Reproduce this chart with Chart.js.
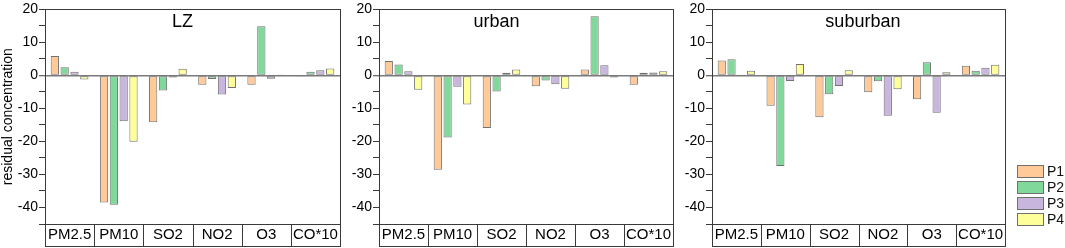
<!DOCTYPE html>
<html>
<head>
<meta charset="utf-8">
<script src="https://cdn.jsdelivr.net/npm/chart.js@4.4.1/dist/chart.umd.min.js"></script>
<style>
  body { margin: 0; background: #fff; font-family: "Liberation Sans", Arial, sans-serif; }
  #wrap { position: relative; width: 1065px; height: 248px; overflow: hidden; }
  canvas { position: absolute; top: 0; }
  #legend { position: absolute; left: 1017px; top: 165px; font-size: 14px; color: #111; }
  .item { height: 16px; display: flex; align-items: flex-start; }
  .sw { width: 25px; height: 11px; border: 1px solid #707070; margin-right: 3px; }
  .lab { line-height: 13px; }
</style>
</head>
<body>
<div id="wrap">
  <canvas id="c1" width="345" height="248" style="left:0px"></canvas>
  <canvas id="c2" width="340" height="248" style="left:340px"></canvas>
  <canvas id="c3" width="385" height="248" style="left:680px"></canvas>
  <div id="legend"></div>
</div>
<script>
const categories = ["PM2.5", "PM10", "SO2", "NO2", "O3", "CO*10"];
const seriesNames = ["P1", "P2", "P3", "P4"];
const colors = ["#FFC998", "#80D99B", "#C9B6DF", "#FFFF99"];
const yTicks = [-40, -30, -20, -10, 0, 10, 20];

// LZ
const lzP1 = [5.9, -38.5, -14.2, -2.8, -2.8, -0.3];
const lzP2 = [2.5, -39.2, -4.6, -1.1, 14.9, 1.1];
const lzP3 = [1.1, -13.9, -0.6, -5.8, -1.0, 1.6];
const lzP4 = [-1.2, -20.1, 2.0, -3.8, 0.15, 2.1];
// urban
const urP1 = [4.4, -28.6, -15.9, -3.3, 1.8, -2.8];
const urP2 = [3.3, -18.8, -4.9, -1.5, 17.9, 0.8];
const urP3 = [1.3, -3.4, 0.8, -2.7, 3.1, 0.9];
const urP4 = [-4.3, -8.8, 1.8, -4.0, -0.6, 1.3];
// suburban
const suP1 = [4.5, -9.2, -12.7, -5.1, -7.2, 2.9];
const suP2 = [4.9, -27.4, -5.7, -1.8, 4.0, 1.4];
const suP3 = [0.3, -1.7, -3.2, -12.2, -11.3, 2.3];
const suP4 = [1.4, 3.5, 1.6, -4.2, 1.0, 3.2];

const FONT = "'Liberation Sans', Arial, sans-serif";
const CAT_BOX = 22;

const framePlugin = {
  id: "frame",
  afterDatasetsDraw(chart, args, opts) {
    const ctx = chart.ctx;
    const a = chart.chartArea;
    const x = chart.scales.x;
    const left = Math.round(a.left) + 0.5;
    const top = Math.round(a.top) + 0.5;
    const bottom = Math.round(a.bottom) + 0.5;
    const w = Math.round(a.right - a.left);
    ctx.save();
    ctx.strokeStyle = "#3a3a3a";
    ctx.lineWidth = 1;
    ctx.strokeRect(left, top, w, bottom - top);
    // category box under the plot
    ctx.strokeRect(left, bottom, w, CAT_BOX);
    ctx.beginPath();
    for (let i = 1; i < categories.length; i++) {
      const px = Math.round((x.getPixelForTick(i - 1) + x.getPixelForTick(i)) / 2) + 0.5;
      ctx.moveTo(px, bottom);
      ctx.lineTo(px, bottom + CAT_BOX);
    }
    ctx.stroke();
    // panel title
    ctx.fillStyle = "#000";
    ctx.font = "18px " + FONT;
    ctx.textAlign = "center";
    ctx.textBaseline = "middle";
    ctx.fillText(opts.text, a.left + (a.right - a.left) * opts.pos, a.top + 13);
    ctx.restore();
  }
};

function makeChart(id, title, titlePos, data, yWidth, padRight, showYTitle) {
  return new Chart(document.getElementById(id), {
    type: "bar",
    data: {
      labels: categories,
      datasets: seriesNames.map((n, i) => ({
        label: n,
        data: data[i],
        backgroundColor: colors[i],
        borderColor: "#707070",
        borderWidth: 1,
        borderSkipped: false,
        categoryPercentage: 0.8,
        barPercentage: 0.84
      }))
    },
    options: {
      responsive: false,
      animation: false,
      devicePixelRatio: 1,
      layout: { padding: { left: 0, right: padRight, top: 7, bottom: 2 } },
      plugins: {
        legend: { display: false },
        tooltip: { enabled: false },
        frame: { text: title, pos: titlePos }
      },
      scales: {
        x: {
          offset: true,
          grid: { display: false },
          border: { display: false },
          ticks: { color: "#000", font: { family: FONT, size: 15 }, padding: -6, maxRotation: 0, autoSkip: false },
          afterFit(s) { s.height = CAT_BOX; }
        },
        y: {
          min: -45,
          max: 20,
          ticks: {
            stepSize: 5,
            autoSkip: false,
            color: "#000",
            font: { family: FONT, size: 14 },
            padding: 1,
            callback: v => (yTicks.includes(v) ? String(v) : "")
          },
          grid: {
            drawOnChartArea: true,
            tickLength: 6,
            tickColor: "#3a3a3a",
            tickWidth: 1,
            color: c => (c.tick && c.tick.value === 0 ? "#7a7a7a" : "rgba(0,0,0,0)"),
            lineWidth: c => (c.tick && c.tick.value === 0 ? 1.5 : 1)
          },
          border: { display: true, color: "#3a3a3a", width: 1 },
          title: {
            display: showYTitle,
            text: "residual concentration",
            color: "#000",
            font: { family: FONT, size: 14 },
            padding: { top: 0, bottom: 0 }
          },
          afterFit(s) { s.width = yWidth; }
        }
      }
    },
    plugins: [framePlugin]
  });
}

makeChart("c1", "LZ", 0.466, [lzP1, lzP2, lzP3, lzP4], 45, 5, true);
makeChart("c2", "urban", 0.40, [urP1, urP2, urP3, urP4], 39, 7, false);
makeChart("c3", "suburban", 0.515, [suP1, suP2, suP3, suP4], 32, 60, false);

const legend = document.getElementById("legend");
seriesNames.forEach((n, i) => {
  const row = document.createElement("div");
  row.className = "item";
  row.innerHTML = '<div class="sw" style="background:' + colors[i] + '"></div><span class="lab">' + n + "</span>";
  legend.appendChild(row);
});
</script>
</body>
</html>
